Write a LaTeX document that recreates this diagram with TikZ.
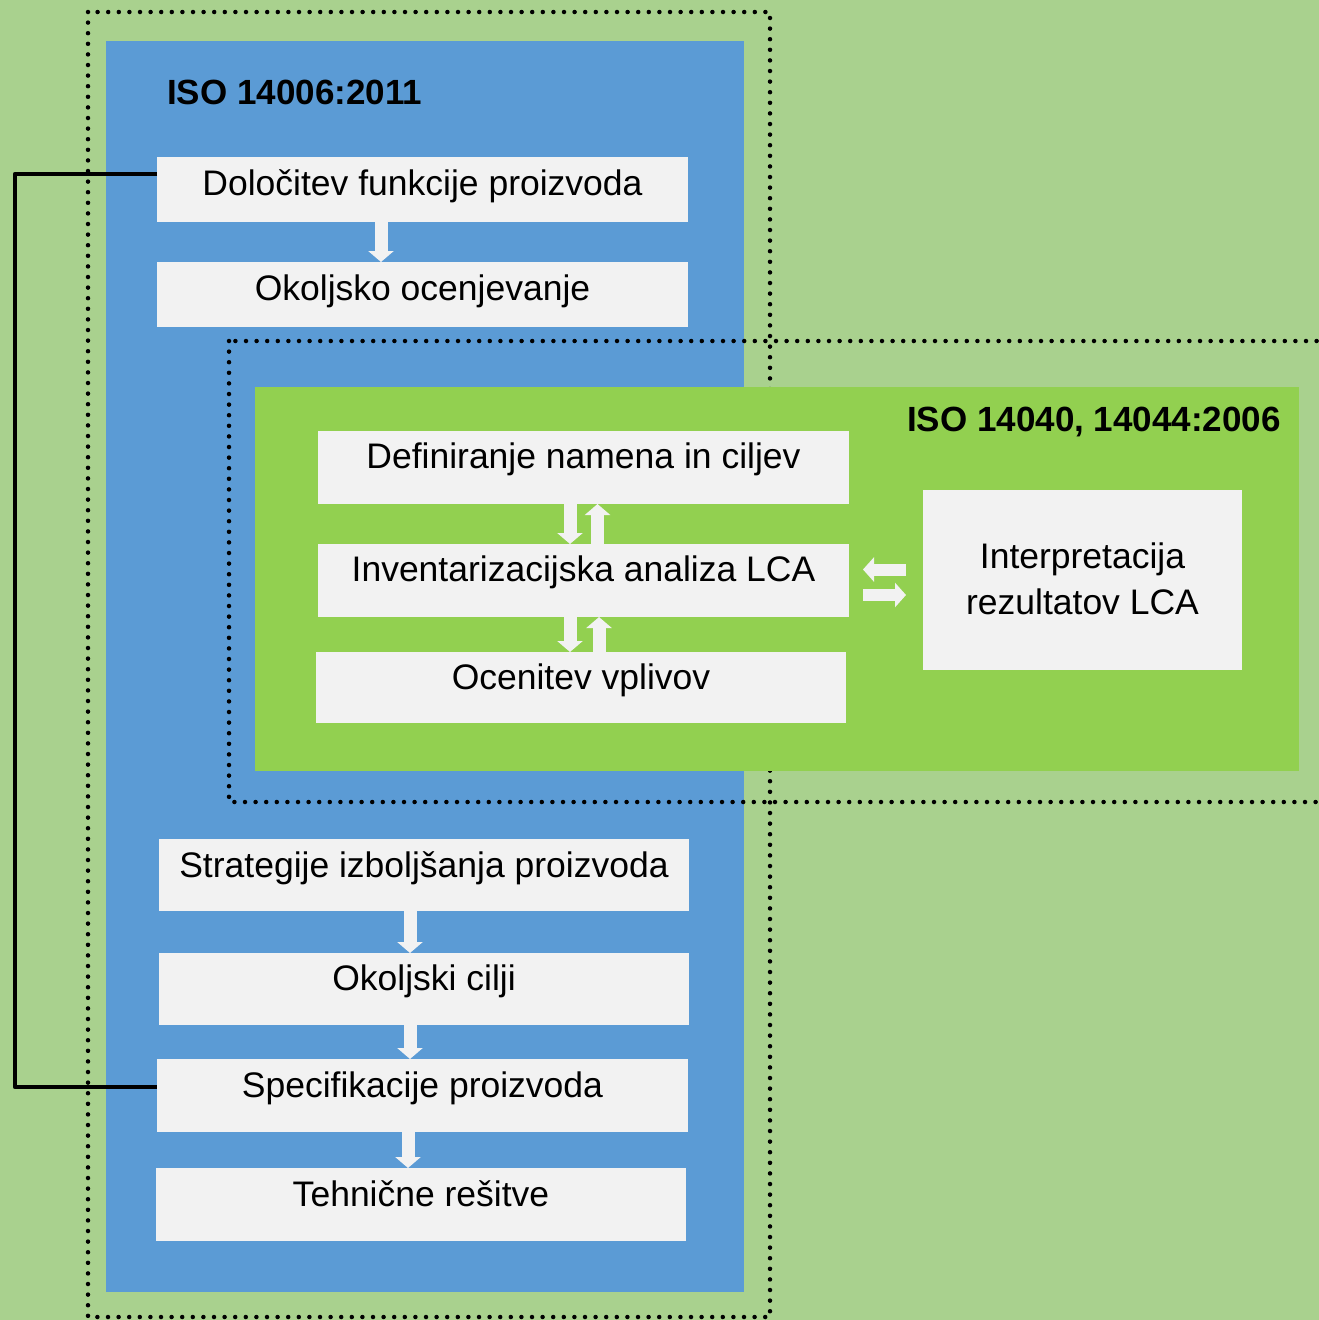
\documentclass[tikz,border=0pt]{standalone}
\usepackage{fontspec}
\setmainfont{Liberation Sans}
\usetikzlibrary{arrows.meta}
\definecolor{bgGreen}{HTML}{A9D18E}
\definecolor{isoBlue}{HTML}{5B9BD5}
\definecolor{lcaGreen}{HTML}{92D050}
\definecolor{boxGray}{HTML}{F2F2F2}
\begin{document}
\begin{tikzpicture}[x=1pt,y=-1pt,
  box/.style={fill=boxGray, inner xsep=0pt, inner ysep=0pt, outer sep=0pt,
    text height=38pt, font=\fontsize{35.5}{42}\selectfont, anchor=center},
  vbarrow/.style={draw=boxGray, line width=13pt, -{Triangle[width=25pt,length=11pt]}},
  hbarrow/.style={draw=boxGray, line width=12pt, -{Triangle[width=24pt,length=11pt]}},
  dotline/.style={line width=4.5pt, line cap=round, dash pattern=on 0pt off 10.6pt},
  title/.style={font=\fontsize{35}{42}\selectfont\bfseries, inner sep=0pt},
  link/.style={line width=4.5pt, line join=round}
]
\useasboundingbox (0,0) rectangle (1319,1320);
\clip (0,0) rectangle (1319,1320);
\fill[bgGreen] (0,0) rectangle (1319,1320);
% outer dotted frame (ISO 14006)
\draw[dotline] (88,12) rectangle (770,1317);
% blue area
\fill[isoBlue] (106,41) rectangle (744,1292);
% second dotted frame (LCA)
\draw[dotline] (229,341) rectangle (1340,802);
% green area
\fill[lcaGreen] (255,387) rectangle (1299,771);

\node[title, anchor=base west] (t1) at (167,104.5) {ISO 14006:2011};
\node[title, anchor=base east] (t2) at (1281,431.5) {ISO 14040, 14044:2006};

\node[box, minimum width=531pt, minimum height=65pt, text depth=27pt] (dol) at (422.5,189.5) {Določitev funkcije proizvoda};
\node[box, minimum width=531pt, minimum height=65pt, text depth=27pt] (oko) at (422.5,294.5) {Okoljsko ocenjevanje};
\node[box, minimum width=531pt, minimum height=73pt, text depth=35pt, text height=37.5pt] (def) at (583.5,467.5) {Definiranje namena in ciljev};
\node[box, minimum width=531pt, minimum height=73pt, text depth=35pt, text height=37.5pt] (inv) at (583.5,580.5) {Inventarizacijska analiza LCA};
\node[box, minimum width=530pt, minimum height=71pt, text depth=33pt, text height=37.5pt] (oce) at (581,687.5) {Ocenitev vplivov};
\node[box, minimum width=319pt, minimum height=180pt, text height=124.5pt, text depth=55.5pt,
  align=center, font=\fontsize{35.5}{46}\selectfont] (int) at (1082.5,580) {Interpretacija\\rezultatov LCA};
\node[box, minimum width=530pt, minimum height=72pt, text depth=34pt] (str) at (424,875) {Strategije izboljšanja proizvoda};
\node[box, minimum width=530pt, minimum height=72pt, text depth=34pt, text height=37.5pt] (cil) at (424,989) {Okoljski cilji};
\node[box, minimum width=531pt, minimum height=73pt, text depth=35pt] (spe) at (422.5,1095.5) {Specifikacije proizvoda};
\node[box, minimum width=530pt, minimum height=73pt, text depth=35pt] (teh) at (421,1204.5) {Tehnične rešitve};

% block arrows
\draw[vbarrow] ([xshift=-41.5pt]dol.south) -- ([xshift=-41.5pt]oko.north);
\draw[vbarrow] ([xshift=-13.5pt]def.south) -- ([xshift=-13.5pt]inv.north);
\draw[vbarrow] ([xshift=14pt]inv.north) -- ([xshift=14pt]def.south);
\draw[vbarrow] ([xshift=-13.5pt]inv.south) -- ([xshift=-11pt]oce.north);
\draw[vbarrow] ([xshift=18pt]oce.north) -- ([xshift=15.5pt]inv.south);
\draw[hbarrow] ([xshift=-17pt,yshift=10.5pt]int.west) -- ([xshift=14pt,yshift=11pt]inv.east);
\draw[hbarrow] ([xshift=14pt,yshift=-14.5pt]inv.east) -- ([xshift=-17pt,yshift=-15pt]int.west);
\draw[vbarrow] ([xshift=-14pt]str.south) -- ([xshift=-14pt]cil.north);
\draw[vbarrow] ([xshift=-14pt]cil.south) -- ([xshift=-12.5pt]spe.north);
\draw[vbarrow] ([xshift=-14.5pt]spe.south) -- ([xshift=-13pt]teh.north);

% feedback connector
\draw[link] ([yshift=15.5pt]dol.west) -- ++(-142,0) |- ([yshift=8.5pt]spe.west);
\end{tikzpicture}
\end{document}
